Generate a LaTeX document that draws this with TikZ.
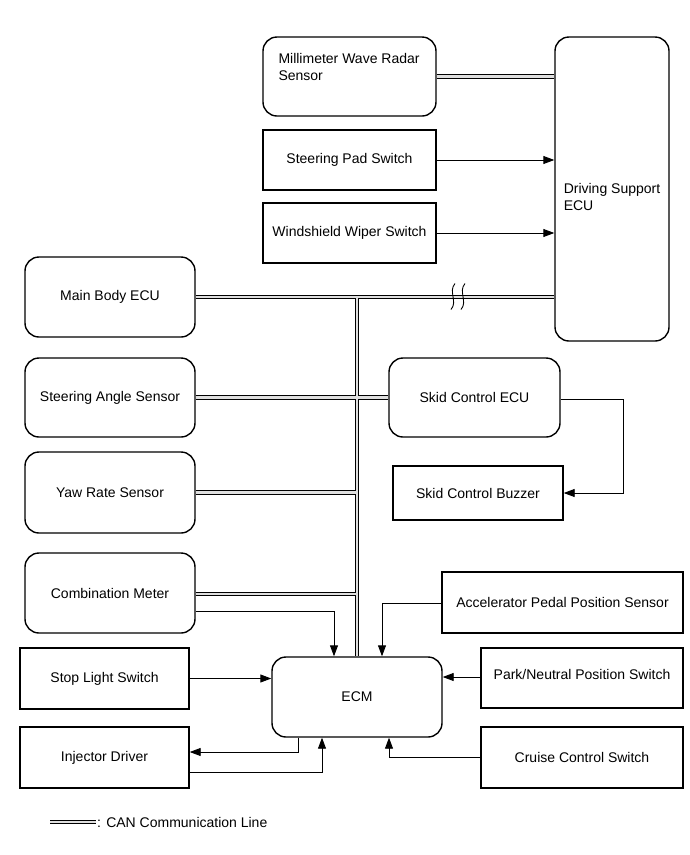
\documentclass[tikz,border=0pt]{standalone}
\usepackage{fontspec}
\setmainfont{Liberation Sans}
\usetikzlibrary{arrows.meta, positioning, calc}

\newcommand\lblfont{\fontsize{14}{16.5}\selectfont}

\tikzset{
  ecu/.style={draw, rounded corners=14pt, line width=1.4pt, minimum width=170pt, minimum height=80pt, font=\lblfont},
  swbox/.style={draw, line width=1.4pt, minimum width=169pt, minimum height=61pt, font=\lblfont},
  sig/.style={line width=0.9pt, -{Triangle[length=11pt,width=8pt]}},
  can/.style={line width=1.3pt, double=gray!25, double distance=2.2pt},
  brk/.style={line width=0.9pt},
}

\begin{document}
\begin{tikzpicture}[x=1pt, y=-1pt]
    \useasboundingbox (0,0) rectangle (690,855);

    % ECUs and switches
    \node[ecu, minimum width=173pt, minimum height=79pt] (radar) at (349.5,76.5) {};
    \node[anchor=north west, align=left, inner sep=0pt, font=\lblfont] (radartxt)
        at ([shift={(16pt,-17pt)}]radar.north west) {Millimeter Wave Radar\\Sensor};
    \node[ecu, minimum width=114pt, minimum height=304pt] (dsecu) at (612,189) {};
    \node[align=left, inner sep=0pt, font=\lblfont] (dsecutxt) at ([yshift=-8pt]dsecu.center) {Driving Support\\ECU};
    \node[swbox, minimum width=173pt, minimum height=60pt] (padsw) at (349.5,160) {Steering Pad Switch};
    \node[swbox, minimum width=173pt, minimum height=60pt] (wipersw) at (349.5,233) {Windshield Wiper Switch};

    \node[ecu] (mainbody) at (110,297) {Main Body ECU};
    \node[ecu, minimum height=79pt] (steerangle) at (110,397.5) {Steering Angle Sensor};
    \node[ecu, minimum width=171pt, minimum height=79pt] (skidecu) at (474.5,397.5) {Skid Control ECU};
    \node[ecu, minimum height=81pt] (yawrate) at (110,492.5) {Yaw Rate Sensor};
    \node[swbox, minimum width=170pt, minimum height=54pt] (buzzer) at (478,493) {Skid Control Buzzer};
    \node[ecu] (combmeter) at (110,593) {Combination Meter};
    \node[swbox, minimum width=241pt] (accel) at (562.5,602.5) {Accelerator Pedal Position Sensor};

    \node[swbox] (stoplight) at (104.5,678.5) {Stop Light Switch};
    \node[ecu] (ecm) at (357,697) {ECM};
    \node[swbox, minimum width=202pt, minimum height=60pt, text depth=8pt] (parksw) at (582,678) {Park/Neutral Position Switch};
    \node[swbox] (injector) at (104.5,757.5) {Injector Driver};
    \node[swbox, minimum width=202pt] (cruisesw) at (582,757.5) {Cruise Control Switch};

    % CAN lines
    \draw[can] (radar.east) -- (radar.east -| dsecu.west);
    \coordinate (bustop) at (mainbody.east -| ecm.north);
    \draw[can] (mainbody.east) -- (mainbody.east -| dsecu.west)
        (bustop) -- (ecm.north)
        (steerangle.east) -- (skidecu.west)
        (yawrate.east) -- (yawrate.east -| ecm.north)
        ([yshift=-1pt]combmeter.east) -- ([yshift=-1pt]combmeter.east -| ecm.north);

    % break in the bus
    \coordinate (brkA) at (453,296.5);
    \coordinate (brkB) at (463,296.5);
    \draw[brk] ([shift={(2pt,13pt)}]brkA) .. controls ([shift={(-5pt,5pt)}]brkA) and ([shift={(5pt,-5pt)}]brkA) .. ([shift={(-2pt,-13pt)}]brkA);
    \draw[brk] ([shift={(2pt,13pt)}]brkB) .. controls ([shift={(-5pt,5pt)}]brkB) and ([shift={(5pt,-5pt)}]brkB) .. ([shift={(-2pt,-13pt)}]brkB);

    % signal lines
    \draw[sig] (padsw.east) -- (padsw.east -| dsecu.west);
    \draw[sig] (wipersw.east) -- (wipersw.east -| dsecu.west);
    \draw[sig] ([yshift=-2pt]skidecu.east) -- ++(63pt,0) |- (buzzer.east);
    \draw[sig] ([yshift=-18pt]combmeter.east) -| ([xshift=-23pt]ecm.north);
    \draw[sig] ([yshift=-1pt]accel.west) -| ([xshift=25pt]ecm.north);
    \draw[sig] (stoplight.east) -- (stoplight.east -| ecm.west);
    \draw[sig] ([yshift=1pt]parksw.west) -- ([yshift=1pt]parksw.west -| ecm.east);
    \draw[sig] ([xshift=-59pt]ecm.south) |- ([yshift=5.5pt]injector.east);
    \draw[sig] ([yshift=-14.5pt]injector.east) -| ([xshift=-35pt]ecm.south);
    \draw[sig] (cruisesw.west) -| ([xshift=32pt]ecm.south);

    % legend
    \coordinate (canA) at (50,822);
    \coordinate (canB) at (96,822);
    \draw[can] (canA) -- (canB);
    \node[anchor=west, inner sep=1pt, font=\lblfont] (cantext) at (canB) {: CAN Communication Line};
\end{tikzpicture}
\end{document}
